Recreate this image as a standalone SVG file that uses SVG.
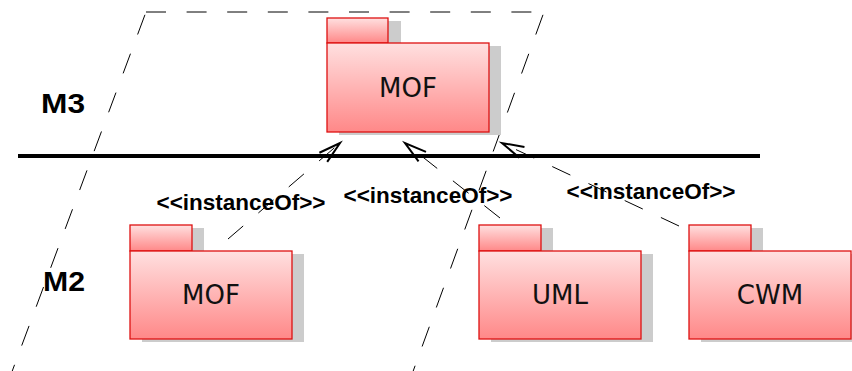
<svg xmlns="http://www.w3.org/2000/svg" width="852" height="371" viewBox="0 0 852 371">
<defs>
<linearGradient id="pk" x1="0" y1="0" x2="0" y2="1">
<stop offset="0" stop-color="#ffe0e0"/>
<stop offset="1" stop-color="#ff8888"/>
</linearGradient>
<marker id="arr" markerUnits="userSpaceOnUse" orient="auto" markerWidth="40" markerHeight="40" refX="0" refY="0" overflow="visible">
<path d="M-22,-6 L0,0 L-22,6" fill="none" stroke="#000" stroke-width="2" stroke-dasharray="none"/>
</marker>
<style>
.sh{fill:#cccccc;}
.pk{fill:url(#pk);stroke:#dd1111;stroke-width:1.3;}
.nm{font-family:"DejaVu Sans",Verdana,sans-serif;font-size:26px;fill:#111;text-anchor:middle;}
.lv{font-family:"Liberation Sans",Arial,sans-serif;font-weight:bold;font-size:28.5px;fill:#000;}
.lb{font-family:"Liberation Sans",Arial,sans-serif;font-weight:bold;font-size:22.5px;fill:#000;text-anchor:middle;}
.bd{fill:none;stroke:#000;stroke-width:1;stroke-dasharray:21 20.5;}
.cn{fill:none;stroke:#000;stroke-width:1;stroke-dasharray:20 20;marker-end:url(#arr);}
</style>
</defs>
<rect width="852" height="371" fill="#fff"/>
<g id="boundary">
<line x1="146" y1="12" x2="544" y2="12" stroke="#000" stroke-width="1" stroke-dasharray="20 20.6"/>
<line class="bd" x1="146" y1="12" x2="10" y2="377" stroke-dashoffset="-3"/>
<line class="bd" x1="544" y1="12" x2="411" y2="377" stroke-dashoffset="-3"/>
</g>
<g id="levels">
<line x1="18" y1="156" x2="760" y2="156" stroke="#000" stroke-width="4"/>
<text class="lv" x="41" y="113" textLength="44" lengthAdjust="spacingAndGlyphs">M3</text>
<text class="lv" x="43" y="291" textLength="42" lengthAdjust="spacingAndGlyphs">M2</text>
</g>
<g id="mof-m3">
<rect class="sh" x="339" y="21" width="62" height="25"/>
<rect class="sh" x="339" y="46" width="162" height="89"/>
<rect class="pk" x="327" y="18" width="61" height="25"/>
<rect class="pk" x="327" y="43" width="162" height="89"/>
<text class="nm" x="408" y="97">MOF</text>
</g>
<g id="mof-m2">
<rect class="sh" x="142" y="228" width="62" height="26"/>
<rect class="sh" x="142" y="254" width="162" height="88"/>
<rect class="pk" x="130" y="225" width="62" height="26"/>
<rect class="pk" x="130" y="251" width="162" height="88"/>
<text class="nm" x="211" y="304">MOF</text>
</g>
<g id="uml">
<rect class="sh" x="491" y="228" width="62" height="26"/>
<rect class="sh" x="491" y="254" width="162" height="88"/>
<rect class="pk" x="479" y="225" width="62" height="26"/>
<rect class="pk" x="479" y="251" width="162" height="88"/>
<text class="nm" x="560" y="304">UML</text>
</g>
<g id="cwm">
<rect class="sh" x="701" y="228" width="62" height="26"/>
<rect class="sh" x="701" y="254" width="162" height="88"/>
<rect class="pk" x="689" y="225" width="62" height="26"/>
<rect class="pk" x="689" y="251" width="162" height="88"/>
<text class="nm" x="770" y="304">CWM</text>
</g>
<g id="connectors">
<line class="cn" x1="228" y1="239" x2="340" y2="143"/>
<line class="cn" x1="500" y1="218" x2="405" y2="143"/>
<line class="cn" x1="679" y1="226" x2="502" y2="143"/>
<text class="lb" x="241" y="210">&lt;&lt;instanceOf&gt;&gt;</text>
<text class="lb" x="428" y="203">&lt;&lt;instanceOf&gt;&gt;</text>
<text class="lb" x="651" y="199">&lt;&lt;instanceOf&gt;&gt;</text>
</g>
</svg>
